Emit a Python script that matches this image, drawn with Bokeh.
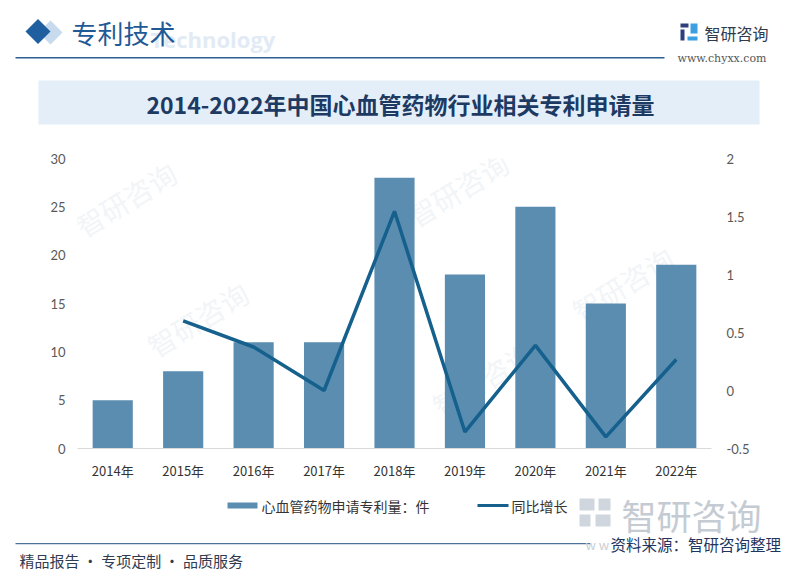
from bokeh.plotting import figure
from bokeh.models import (FactorRange, Range1d, LinearAxis, FixedTicker, NumeralTickFormatter, Label)
from bokeh.core.properties import value
from bokeh.embed import file_html
from bokeh.resources import INLINE

# ---------------- data ----------------
years = ["2014年", "2015年", "2016年", "2017年", "2018年", "2019年", "2020年", "2021年", "2022年"]
patents = [5, 8, 11, 11, 28, 18, 25, 15, 19]
growth_years = ["2015年", "2016年", "2017年", "2018年", "2019年", "2020年", "2021年", "2022年"]
growth = [0.6, 0.375, 0.0, 1.545, -0.357, 0.389, -0.4, 0.267]
left_ticks = [0, 5, 10, 15, 20, 25, 30]
right_ticks = [-0.5, 0, 0.5, 1, 1.5, 2]
bar_label = "心血管药物申请专利量：件"
line_label = "同比增长"
title_text = "2014-2022年中国心血管药物行业相关专利申请量"

CJK = "Noto Sans CJK SC"
BAR_COLOR = "#5a8db0"
LINE_COLOR = "#15608c"

# ---------------- page geometry ----------------
PW = 800
H_TOP, H_MID_END, PH = 138, 490, 575
FL, FR, FT, FB = 77, 711, 158, 448   # chart frame in page px


def canvas_fig(y0, y1):
    f = figure(width=PW, height=y1 - y0, x_range=Range1d(0, PW), y_range=Range1d(y1, y0),
               output_backend="svg", toolbar_location=None, x_axis_type=None, y_axis_type=None,
               min_border_left=0, min_border_right=0, min_border_top=0, min_border_bottom=0,
               outline_line_color=None, background_fill_color="white",
               border_fill_color="white")
    f.xgrid.visible = False
    f.ygrid.visible = False
    return f


def txt(f, s, x, y, size, color, font=CJK, align="left", style="normal", angle=0.0):
    f.text(x=[x], y=[y], text=[s], text_font=value(font), text_font_size=f"{size}px",
           text_color=color, text_align=align, text_baseline="middle",
           text_font_style=style, angle=angle)


def rect(f, l, r, t, b, color):
    f.quad(left=[l], right=[r], top=[t], bottom=[b], fill_color=color, line_color=None)


# ================= header =================
hd = canvas_fig(0, H_TOP)
hd.patch([50, 62, 50, 38], [20, 32, 44, 32], fill_color="#c8daee", line_color=None)
hd.patch([37.5, 50, 37.5, 25], [18.5, 31, 43.5, 31], fill_color="#1f5fa0", line_color=None)
txt(hd, "Technology", 150, 38, 22, "#e2ebf5", font="Open Sans", style="bold")
txt(hd, "专利技术", 71, 32, 26, "#1f5a96")
rect(hd, 15, 664, 56.5, 58, "#2d5f92")
# logo
rect(hd, 680, 688, 23, 27, "#2c3f7c")
rect(hd, 680, 684, 29, 40, "#2c3f7c")
rect(hd, 690, 697, 23, 33, "#3b9fe0")
rect(hd, 687, 697, 36, 40, "#3b9fe0")
txt(hd, "智研咨询", 704, 32, 16, "#2f3a4d")
txt(hd, "www.chyxx.com", 677, 58, 11, "#555555", font="DejaVu Serif")
# title box
rect(hd, 38, 759, 80, 124, "#e4eef8")
txt(hd, title_text, 400, 103, 23, "#1d3a63", style="bold", align="center")

# ================= chart =================
CH = H_MID_END - H_TOP
p = figure(width=PW, height=CH, x_range=FactorRange(*years, range_padding=0),
           y_range=Range1d(0, 30), output_backend="svg", toolbar_location=None,
           min_border_left=FL, min_border_right=PW - FR,
           min_border_top=FT - H_TOP, min_border_bottom=H_MID_END - FB,
           outline_line_color=None, background_fill_color="white",
           border_fill_color="white")
p.xgrid.visible = False
p.ygrid.visible = False

ya = p.yaxis[0]
ya.ticker = FixedTicker(ticks=left_ticks)
ya.axis_line_color = None
ya.major_tick_line_color = None
ya.minor_tick_line_color = None
ya.major_tick_in = 0
ya.major_tick_out = 0
ya.major_label_standoff = 12
ya.major_label_text_font = "Lato"
ya.major_label_text_font_size = "13px"
ya.major_label_text_color = "#595959"

p.extra_y_ranges = {"g": Range1d(-0.5, 2)}
ra = LinearAxis(y_range_name="g", ticker=FixedTicker(ticks=right_ticks),
                formatter=NumeralTickFormatter(format="0.[0]"))
ra.axis_line_color = None
ra.major_tick_line_color = None
ra.minor_tick_line_color = None
ra.major_tick_in = 0
ra.major_tick_out = 0
ra.major_label_standoff = 15
ra.major_label_text_font = "Lato"
ra.major_label_text_font_size = "13px"
ra.major_label_text_color = "#595959"
p.add_layout(ra, "right")

xa = p.xaxis[0]
xa.axis_line_color = "#d9d9d9"
xa.major_tick_line_color = None
xa.minor_tick_line_color = None
xa.major_tick_in = 0
xa.major_tick_out = 0
xa.major_label_standoff = 12
xa.major_label_text_font = CJK
xa.major_label_text_font_size = "13px"
xa.major_label_text_color = "#333333"

# faint watermarks fully inside the plot area (frame-relative screen units)
for (wx, wy) in [(88, 245), (420, 235), (160, 365), (445, 425), (585, 330)]:
    p.add_layout(Label(x=wx - FL, y=FB - wy, x_units="screen", y_units="screen",
                       text="智研咨询", text_font=CJK, text_font_size="28px",
                       text_color="#f2f5f8", angle=0.55, level="underlay"))

bars = p.vbar(x=years, top=patents, width=0.57, fill_color=BAR_COLOR, line_color=None)
ln = p.line(x=growth_years, y=growth, y_range_name="g", line_color=LINE_COLOR, line_width=3.5)

# ================= footer =================
ft = canvas_fig(H_MID_END, PH)
for (l, r, t, b) in [(579, 594, 498, 510), (598, 610, 498, 510), (579, 590, 514, 526), (595, 610, 514, 526)]:
    rect(ft, l, r, t, b, "#cfd6dd")
txt(ft, "智研咨询", 621, 514, 35, "#c4cbd2")
# legend
rect(ft, 227, 257, 502, 508, BAR_COLOR)
txt(ft, bar_label, 261, 505, 14, "#333333")
ft.line([477, 508], [505, 505], line_color=LINE_COLOR, line_width=3)
txt(ft, line_label, 511, 505, 14, "#333333")
# footer line and texts
rect(ft, 15, 590, 542.5, 543.8, "#4f7195")
txt(ft, "w w", 585, 544, 13, "#c9d0d8")
txt(ft, "资料来源：智研咨询整理", 610, 543, 15.5, "#1f3560")
txt(ft, "精品报告 · 专项定制 · 品质服务", 19, 560, 15, "#2f3b4f")

open("out.html", "w").write(file_html([hd, p, ft], INLINE))
